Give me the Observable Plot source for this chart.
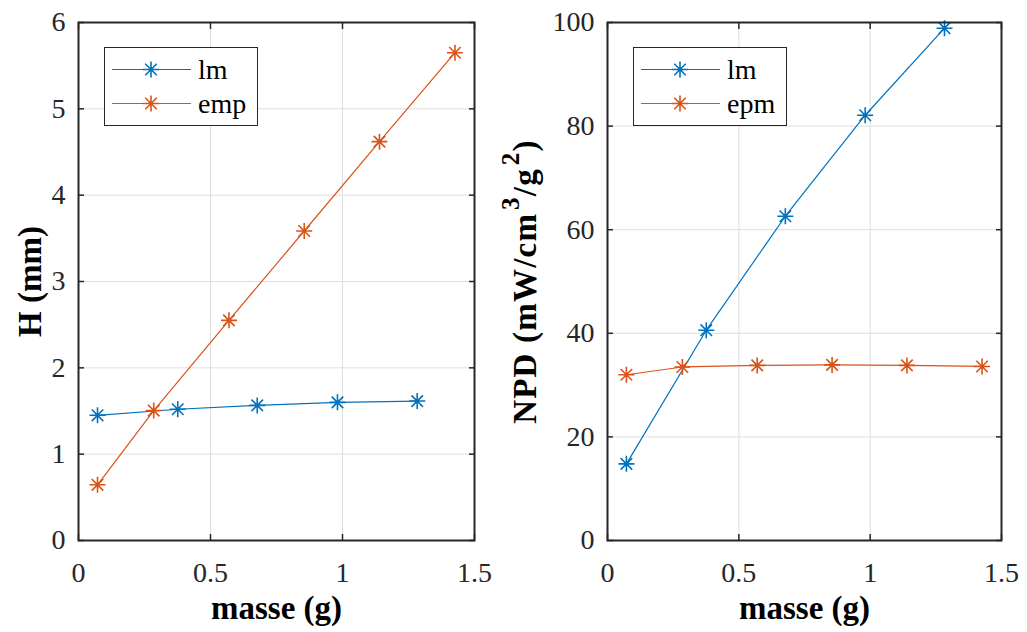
<!DOCTYPE html>
<html>
<head>
<meta charset="utf-8">
<script src="https://cdn.jsdelivr.net/npm/d3@7"></script>
<script src="https://cdn.jsdelivr.net/npm/@observablehq/plot@0.6"></script>
<style>
  html, body { margin: 0; padding: 0; background: #fff; }
  #fig { position: relative; width: 1027px; height: 632px; background: #fff; overflow: hidden; }
  .panel { position: absolute; top: 0; }
  .legend { position: absolute; background: #fff; border: 1px solid #262626; box-sizing: border-box; }
</style>
</head>
<body>
<div id="fig"></div>
<script>
// ---------- data ----------
const xTicks = [0, 0.5, 1, 1.5];
const hTicks = [0, 1, 2, 3, 4, 5, 6];
const npdTicks = [0, 20, 40, 60, 80, 100];

const masseLm = [0.072, 0.376, 0.677, 0.981, 1.283];
const masseEmp = [0.072, 0.285, 0.570, 0.855, 1.140, 1.426];

const hLm = [1.45, 1.52, 1.565, 1.60, 1.615];
const hEmp = [0.645, 1.505, 2.55, 3.585, 4.62, 5.65];

const npdLm = [14.8, 40.6, 62.6, 82.1, 98.9];
const npdEpm = [32.0, 33.5, 33.8, 33.9, 33.8, 33.6];

const blue = "#0072BD";
const orange = "#D95319";
const axisColor = "#262626";
const serif = "'Liberation Serif', 'Times New Roman', serif";

// 8-spoke asterisk marker (MATLAB '*')
const star8 = {
  draw(ctx, size) {
    const r = Math.sqrt(size / Math.PI);
    const d = r * 0.72;
    ctx.moveTo(-r, 0); ctx.lineTo(r, 0);
    ctx.moveTo(0, -r); ctx.lineTo(0, r);
    ctx.moveTo(-d, -d); ctx.lineTo(d, d);
    ctx.moveTo(-d, d); ctx.lineTo(d, -d);
  }
};

function toRows(xs, ys) { return xs.map((x, i) => ({x, y: ys[i]})); }

function panel({width, marginLeft, yDomain, yTicks, yLabel, yLabelDx, series}) {
  const marks = [
    Plot.gridX(xTicks.slice(1, -1), {stroke: "#dedede", strokeOpacity: 1, strokeWidth: 1}),
    Plot.gridY(yTicks.slice(1, -1), {stroke: "#dedede", strokeOpacity: 1, strokeWidth: 1}),
  ];
  for (const s of series) {
    const rows = toRows(s.x, s.y);
    marks.push(Plot.line(rows, {x: "x", y: "y", stroke: s.color, strokeWidth: 1.2}));
    marks.push(Plot.dot(rows, {x: "x", y: "y", r: 8, symbol: star8, fill: "none", stroke: s.color, strokeWidth: 1.6}));
  }
  marks.push(
    Plot.frame({stroke: axisColor, strokeWidth: 2}),
    // inward ticks on all four sides
    Plot.axisX({ticks: xTicks, anchor: "bottom", tickSize: 6, dy: -6, text: null, label: null, stroke: axisColor, strokeWidth: 1.5}),
    Plot.axisX({ticks: xTicks, anchor: "top", tickSize: 6, dy: 6, text: null, label: null, stroke: axisColor, strokeWidth: 1.5}),
    Plot.axisY({ticks: yTicks, anchor: "left", tickSize: 6, dx: 6, text: null, label: null, stroke: axisColor, strokeWidth: 1.5}),
    Plot.axisY({ticks: yTicks, anchor: "right", tickSize: 6, dx: -6, text: null, label: null, stroke: axisColor, strokeWidth: 1.5}),
    // tick labels
    Plot.axisX({ticks: xTicks, anchor: "bottom", tickSize: 0, tickPadding: 22, label: null, tickFormat: d => String(d), fill: axisColor, fontFamily: serif}),
    Plot.axisY({ticks: yTicks, anchor: "left", tickSize: 0, tickPadding: 13, label: null, tickFormat: d => String(d), fill: axisColor, fontFamily: serif}),
    // axis titles
    Plot.text(["masse (g)"], {frameAnchor: "bottom", dy: 78, lineAnchor: "bottom", textAnchor: "middle",
      fontWeight: "bold", fontSize: 33, fill: "#000", fontFamily: serif}),
    Plot.text([yLabel], {frameAnchor: "left", dx: yLabelDx, rotate: -90, lineAnchor: "bottom", textAnchor: "middle",
      fontWeight: "bold", fontSize: 33, fill: "#000", fontFamily: serif})
  );
  return Plot.plot({
    width, height: 632,
    marginTop: 22, marginBottom: 92, marginLeft, marginRight: 26,
    style: {fontFamily: serif, fontSize: "28px", background: "#fff", color: axisColor, overflow: "visible"},
    x: {domain: [0, 1.5]},
    y: {domain: yDomain},
    marks
  });
}

function legend(left, entries) {
  const div = document.createElement("div");
  div.className = "legend";
  div.style.left = left + "px";
  div.style.top = "47px";
  div.style.width = "154px";
  div.style.height = "79px";
  const ns = "http://www.w3.org/2000/svg";
  const svg = document.createElementNS(ns, "svg");
  svg.setAttribute("width", 152);
  svg.setAttribute("height", 77);
  svg.style.display = "block";
  entries.forEach((e, i) => {
    const cy = 21.5 + i * 34;
    const line = document.createElementNS(ns, "line");
    line.setAttribute("x1", 7); line.setAttribute("x2", 86);
    line.setAttribute("y1", cy); line.setAttribute("y2", cy);
    line.setAttribute("stroke", e.color); line.setAttribute("stroke-width", 1.2);
    svg.appendChild(line);
    const p = document.createElementNS(ns, "path");
    const r = 8, d = r * 0.72, cx = 46;
    p.setAttribute("d", `M${cx - r},${cy}L${cx + r},${cy}M${cx},${cy - r}L${cx},${cy + r}M${cx - d},${cy - d}L${cx + d},${cy + d}M${cx - d},${cy + d}L${cx + d},${cy - d}`);
    p.setAttribute("stroke", e.color); p.setAttribute("stroke-width", 1.6); p.setAttribute("fill", "none");
    svg.appendChild(p);
    const t = document.createElementNS(ns, "text");
    t.setAttribute("x", 93); t.setAttribute("y", cy + 9);
    t.setAttribute("font-family", serif);
    t.setAttribute("font-size", 28);
    t.setAttribute("fill", "#000");
    t.textContent = e.label;
    svg.appendChild(t);
  });
  div.appendChild(svg);
  return div;
}

const fig = document.getElementById("fig");

const left = panel({
  width: 500, marginLeft: 78, yDomain: [0, 6], yTicks: hTicks,
  yLabel: "H (mm)", yLabelDx: -38,
  series: [{x: masseLm, y: hLm, color: blue}, {x: masseEmp, y: hEmp, color: orange}]
});
left.classList.add("panel");
left.style.left = "0px";
fig.appendChild(left);

const right = panel({
  width: 514, marginLeft: 94, yDomain: [0, 100], yTicks: npdTicks,
  yLabel: "NPD (mW/cm3/g2)", yLabelDx: -72,
  series: [{x: masseLm, y: npdLm, color: blue}, {x: masseEmp, y: npdEpm, color: orange}]
});
right.classList.add("panel");
right.style.left = "513px";
fig.appendChild(right);

// superscripts in the NPD label
for (const t of right.querySelectorAll("text")) {
  if (t.textContent === "NPD (mW/cm3/g2)") {
    t.textContent = "";
    t.setAttribute("letter-spacing", "1.2");
    const ns = "http://www.w3.org/2000/svg";
    const parts = [
      {s: "NPD (mW/cm"},
      {s: "3", sup: true},
      {s: "/g", down: true},
      {s: "2", sup: true},
      {s: ")", down: true}
    ];
    for (const p of parts) {
      const ts = document.createElementNS(ns, "tspan");
      ts.textContent = p.s;
      if (p.sup) { ts.setAttribute("dy", "-17"); ts.setAttribute("font-size", "25"); ts.setAttribute("dx", "3"); }
      if (p.down) { ts.setAttribute("dy", "17"); }
      t.appendChild(ts);
    }
  }
}

fig.appendChild(legend(104, [{label: "lm", color: blue}, {label: "emp", color: orange}]));
fig.appendChild(legend(633, [{label: "lm", color: blue}, {label: "epm", color: orange}]));
</script>
</body>
</html>
